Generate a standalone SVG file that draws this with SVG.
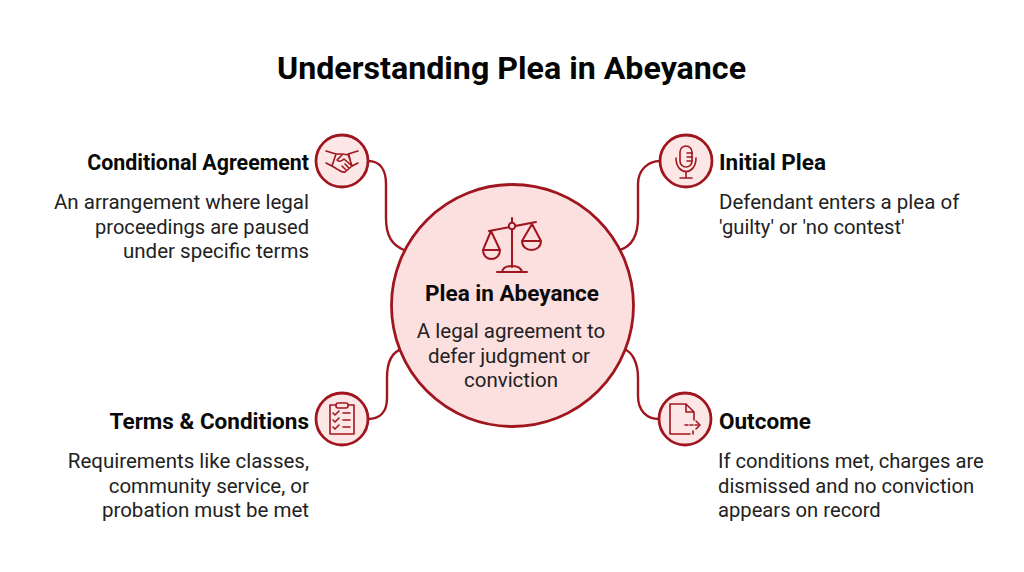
<svg xmlns="http://www.w3.org/2000/svg" width="1024" height="572" viewBox="0 0 1024 572">
<style>
text{font-family:Roboto,"Liberation Sans",sans-serif;fill:#111}
.t{font-size:32.200px;font-weight:700;text-anchor:middle;fill:#050505}
.h{font-size:22.500px;font-weight:700;fill:#0a0a0a}
.b{font-size:20.500px;fill:#222}
.r{font-size:20.200px}
.e{text-anchor:end}.m{text-anchor:middle}
.c{fill:none;stroke:#a0161e;stroke-width:2.400}
.n{fill:#fde6e6;stroke:#a0161e;stroke-width:2.800}
.k{fill:#fcdfdf}
.i{fill:none;stroke:#a0161e;stroke-width:1.600;stroke-linecap:round;stroke-linejoin:round}
.s{stroke-width:2}
</style>
<rect width="1024" height="572" fill="#fff"/>
<text class="t" x="511.500" y="79">Understanding Plea in Abeyance</text>
<g id="connectors">
<path class="c" d="M368 161C380 161 386 170 386 184V218C386 236 392 245 404 250"/>
<path class="c" d="M660 161C648 161 638 170 638 184V218C638 236 632 246 620 250"/>
<path class="c" d="M368 419C380 419 387 412 387 398V378C387 362 392 352 402 349"/>
<path class="c" d="M659 419C647 419 638 411 638 396V378C638 362 632 352 624 349"/>
</g>
<g id="center">
<circle class="n k" cx="512.500" cy="305.500" r="121"/>
<g class="i s">
<path d="M512 218V267M489 231L536 222M497 272H527M502 272C503 267 507 266 512 266S521 267 522 272"/>
<circle cx="512" cy="226" r="3.200" fill="#fcdfdf"/>
<path d="M491 231L483 250H500ZM483 250C483 262 500 262 500 250M532 224L522 241H541ZM522 241C522 253 541 253 541 241"/>
</g>
<text class="h m" x="512" y="300.500">Plea in Abeyance</text>
<text class="b m" x="511" y="338">A legal agreement to</text>
<text class="b m" x="509" y="363">defer judgment or</text>
<text class="b m" x="511" y="387">conviction</text>
</g>
<g id="conditional-agreement">
<circle class="n" cx="342" cy="161" r="26"/>
<g class="i">
<path d="M326 151L336 154L332 166L326 163M358 151L348 154L352 166L358 163M336 154H342L349 155L351 164"/>
<path d="M342 155L337 160C339 162 342 161 344 159L352 166L345 172C342 173 339 170 337 169L332 166"/>
<path d="M346 170L342 166M349 168L345 164"/>
</g>
<text class="h e" x="309" y="169.500" style="font-size:21.400px">Conditional Agreement</text>
<text class="b e" x="309" y="209">An arrangement where legal</text>
<text class="b e r" x="309" y="234" style="font-size:20.100px">proceedings are paused</text>
<text class="b e" x="309" y="258">under specific terms</text>
</g>
<g id="initial-plea">
<circle class="n" cx="686" cy="161" r="26"/>
<g class="i">
<rect x="680" y="146" width="12" height="21" rx="6"/>
<path d="M687 153H692M687 157H692M687 161H692M676 158C676 176 696 176 696 158M686 172V178M680 178H692"/>
</g>
<text class="h" x="719" y="169.500">Initial Plea</text>
<text class="b" x="719" y="209">Defendant enters a plea of</text>
<text class="b r" x="719" y="234">'guilty' or 'no contest'</text>
</g>
<g id="terms-conditions">
<circle class="n" cx="342" cy="419" r="26"/>
<g class="i">
<path d="M336 405H330V434H354V405H348"/>
<rect x="336" y="403" width="12" height="5" rx="2"/>
<path d="M333 413L335 415L339 411M333 420L335 422L339 418M333 427L335 429L339 425M343 413H350M343 420H350M343 427H350"/>
</g>
<text class="h e" x="309" y="428.500">Terms &amp; Conditions</text>
<text class="b e" x="309" y="468">Requirements like classes,</text>
<text class="b e" x="309" y="493">community service, or</text>
<text class="b e" x="309" y="517">probation must be met</text>
</g>
<g id="outcome">
<circle class="n" cx="685" cy="419" r="26"/>
<g class="i">
<path d="M694 420V412L686 404H670V434H690M686 404V412H694M693 431V434"/>
<path d="M685 425H699" stroke-dasharray="3 2"/>
<path d="M696 421L700 425L696 429"/>
</g>
<text class="h" x="719" y="428.500">Outcome</text>
<text class="b r" x="718" y="468">If conditions met, charges are</text>
<text class="b r" x="718" y="493">dismissed and no conviction</text>
<text class="b r" x="718" y="517">appears on record</text>
</g>
</svg>
